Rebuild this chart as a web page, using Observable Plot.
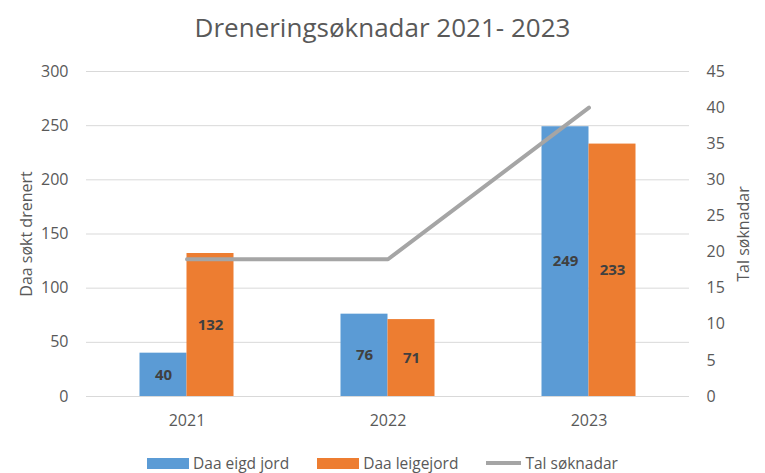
<!DOCTYPE html>
<html>
<head>
<meta charset="utf-8">
<script src="https://cdn.jsdelivr.net/npm/d3@7"></script>
<script src="https://cdn.jsdelivr.net/npm/@observablehq/plot@0.6"></script>
<style>
  html, body { margin: 0; padding: 0; background: #fff; }
  body { position: relative; width: 765px; height: 473px; overflow: hidden; font-family: "Open Sans", sans-serif; color: #595959; }
  #title { height: 45px; text-align: center; font-size: 26px; line-height: 54px; color: #595959; }
  #chart svg { display: block; }
  #legend { position: absolute; left: 0; top: 453px; width: 765px; height: 20px; line-height: 20px; display: flex; justify-content: center; align-items: center; gap: 28px; font-size: 15.5px; color: #595959; }
  .item { display: flex; align-items: center; gap: 4px; }
  .sw { width: 42px; height: 11px; }
  .ln { width: 35px; height: 4px; }
</style>
</head>
<body>
<div id="title"></div>
<div id="chart"></div>
<div id="legend"></div>
<script>
const titleText = "Dreneringsøknadar 2021- 2023";
const years = ["2021", "2022", "2023"];
const eigdJord = [40, 76, 249];
const leigeJord = [132, 71, 233];
const talSoknadar = [19, 19, 40];
const leftTicks = [0, 50, 100, 150, 200, 250, 300];
const rightTicks = [0, 5, 10, 15, 20, 25, 30, 35, 40, 45];
const seriesNames = ["Daa eigd jord", "Daa leigejord", "Tal søknadar"];
const leftLabel = "Daa søkt drenert";
const rightLabel = "Tal søknadar";
const colors = ["#5B9BD5", "#ED7D31", "#A5A5A5"];

const leftMax = 300, rightMax = 45;
const k = leftMax / rightMax;

const eigdData = years.map((y, i) => ({year: y, value: eigdJord[i]}));
const leigeData = years.map((y, i) => ({year: y, value: leigeJord[i]}));
const lineData = years.map((y, i) => ({year: y, value: talSoknadar[i]}));

document.getElementById("title").textContent = titleText;

const plot = Plot.plot({
  width: 765,
  height: 405,
  marginTop: 26,
  marginBottom: 54,
  marginLeft: 86,
  marginRight: 76,
  style: { fontFamily: "Open Sans, sans-serif", fontSize: "16px", color: "#595959", background: "white" },
  x: { domain: years, padding: 0 },
  y: { domain: [0, leftMax] },
  marks: [
    Plot.ruleY(leftTicks, { stroke: "#d9d9d9", strokeWidth: 1 }),
    Plot.barY(eigdData, { x: "year", y: "value", fill: colors[0], insetLeft: 53.5, insetRight: 100.5 }),
    Plot.barY(leigeData, { x: "year", y: "value", fill: colors[1], insetLeft: 100.5, insetRight: 53.5 }),
    Plot.text(eigdData, { x: "year", y: d => d.value / 2, text: d => String(d.value), dx: -23.5, fill: "#404040", fontWeight: "bold", fontSize: 15 }),
    Plot.text(leigeData, { x: "year", y: d => d.value / 2, text: d => String(d.value), dx: 23.5, fill: "#404040", fontWeight: "bold", fontSize: 15 }),
    Plot.lineY(lineData, { x: "year", y: d => d.value * k, stroke: colors[2], strokeWidth: 4 }),
    Plot.axisX({ tickSize: 0, tickPadding: 18, label: null, fill: "#595959", fontSize: 16 }),
    Plot.axisY({ anchor: "left", ticks: leftTicks, tickSize: 0, tickPadding: 18, label: leftLabel, labelArrow: "none", labelAnchor: "center", labelOffset: 66, fill: "#595959", fontSize: 16 }),
    Plot.axisY({ anchor: "right", ticks: rightTicks.map(v => v * k), tickFormat: d => String(Math.round(d / k)), tickSize: 0, tickPadding: 17, textAnchor: "start", label: rightLabel, labelArrow: "none", labelAnchor: "center", labelOffset: 59, fill: "#595959", fontSize: 16 })
  ]
});
document.getElementById("chart").appendChild(plot);

const legend = document.getElementById("legend");
seriesNames.forEach((name, i) => {
  const item = document.createElement("div");
  item.className = "item";
  const sw = document.createElement("div");
  sw.className = i === 2 ? "ln" : "sw";
  sw.style.background = colors[i];
  const t = document.createElement("span");
  t.textContent = name;
  item.appendChild(sw);
  item.appendChild(t);
  legend.appendChild(item);
});
</script>
</body>
</html>
